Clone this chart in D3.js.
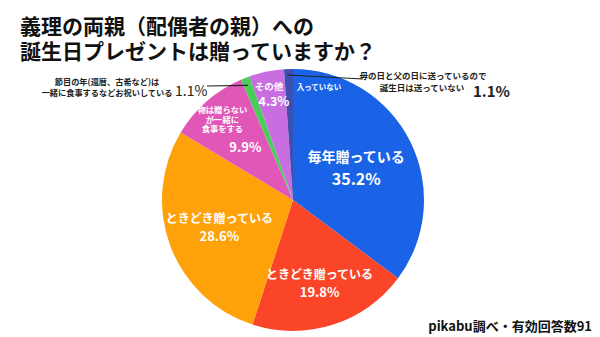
<!DOCTYPE html>
<html><head><meta charset="utf-8">
<script src="https://cdn.jsdelivr.net/npm/d3@7"></script>
<style>
html,body{margin:0;padding:0;background:#fff;}
text{font-family:"Noto Sans CJK JP","Noto Sans",sans-serif;}
</style></head>
<body><svg id="c" width="600" height="337"></svg>
<script>
const titleLines = ["義理の両親（配偶者の親）への", "誕生日プレゼントは贈っていますか？"];
const categories = ["毎年贈っている", "ときどき贈っている", "ときどき贈っている", "物は贈らないが一緒に食事をする", "節目の年(還暦、古希など)は一緒に食事するなどお祝いしている", "その他", "母の日と父の日に送っているので誕生日は送っていない"];
const values = [35.2, 19.8, 28.6, 9.9, 1.1, 4.3, 1.1];
const source = "pikabu調べ・有効回答数91";

const colors = ["#1a63e6", "#fb4528", "#ffa20a", "#e057b8", "#4ccc5a", "#c86ee0", "#3d4fb0"];

const svg = d3.select("#c");
svg.append("rect").attr("width",600).attr("height",337).attr("fill","#fff");

// title
svg.append("g").selectAll("text").data(titleLines).join("text")
  .attr("x", 20).attr("y", (d,i)=> 34 + i*24.5)
  .attr("font-size", 21).attr("font-weight", 700).attr("fill", "#111")
  .text(d=>d);

const cx = 293, cy = 200, R = 131;
const pie = d3.pie().sort(null).value(d=>d.v);
const arcs = pie(values.map((v,i)=>({v, i, cat: categories[i]})));
const arc = d3.arc().innerRadius(0).outerRadius(R);

const g = svg.append("g").attr("transform", `translate(${cx},${cy})`);
g.selectAll("path").data(arcs).join("path")
  .attr("d", arc).attr("fill", d=>colors[d.data.i]);

const fmt = v => v.toFixed(1) + "%";
function pos(d, rf){ const a = (d.startAngle + d.endAngle)/2; return [Math.sin(a)*R*rf, -Math.cos(a)*R*rf]; }

// inner labels
const inner = [
  {i:0, rf:0.54, lines:["毎年贈っている"], ls:14, ps:16, gap:22},
  {i:1, rf:0.67, lines:["ときどき贈っている"], ls:12, ps:13, gap:17},
  {i:2, rf:0.60, lines:["ときどき贈っている"], ls:12, ps:13, gap:17},
];
inner.forEach(o=>{
  const [x,y] = pos(arcs[o.i], o.rf);
  const t = g.append("g").attr("transform", `translate(${x},${y})`);
  t.append("text").attr("text-anchor","middle").attr("y", -o.gap/2 + o.ls*0.36)
    .attr("font-size", o.ls).attr("font-weight",700).attr("fill","#fff").text(o.lines[0]);
  t.append("text").attr("text-anchor","middle").attr("y", o.gap/2 + o.ps*0.36)
    .attr("font-size", o.ps).attr("font-weight",700).attr("fill","#fff").text(fmt(values[o.i]));
});

// pink label
{
  const [x,y] = pos(arcs[3], 0.76);
  const t = g.append("g").attr("transform", `translate(${x},${y})`);
  ["物は贈らない","が一緒に","食事をする"].forEach((s,k)=>{
    t.append("text").attr("text-anchor","middle").attr("x",-5).attr("y", -15 + k*9.5 + 3)
      .attr("font-size", 8.3).attr("font-weight",700).attr("fill","#fff").text(s);
  });
  t.append("text").attr("text-anchor","middle").attr("x",18).attr("y", 19+7.5)
    .attr("font-size", 13).attr("font-weight",700).attr("fill","#fff").text(fmt(values[3]));
}
// purple label
{
  const [x,y] = pos(arcs[5], 0.83);
  const t = g.append("g").attr("transform", `translate(${x},${y})`);
  t.append("text").attr("text-anchor","middle").attr("x",-2).attr("y", -7+3.5)
    .attr("font-size", 9.5).attr("font-weight",700).attr("fill","#fff").text("その他");
  t.append("text").attr("text-anchor","middle").attr("x",3).attr("y", 8+4.5)
    .attr("font-size", 12.5).attr("font-weight",700).attr("fill","#fff").text(fmt(values[5]));
}
// dark blue slice: 入っていない label + leader + outside text
{
  const [x,y] = pos(arcs[6], 0.95);
  g.append("text").attr("x", x+8).attr("y", y+14.5).attr("font-size", 7.5).attr("font-weight",700)
    .attr("fill","#fff").text("入っていない");
  g.append("line").attr("x1", x-1.5).attr("y1", y-0.6).attr("x2", 70).attr("y2", -121)
    .attr("stroke","#222").attr("stroke-width",1.2);
  g.append("text").attr("x", 130).attr("y", -121).attr("text-anchor","middle").attr("font-size",8.5)
    .attr("font-weight",700).attr("fill","#222").text("母の日と父の日に送っているので");
  g.append("text").attr("x", 129).attr("y", -109).attr("text-anchor","middle").attr("font-size",8.5)
    .attr("font-weight",700).attr("fill","#222").text("誕生日は送っていない");
  g.append("text").attr("x", 180).attr("y", -103).attr("font-size",15)
    .attr("font-weight",700).attr("fill","#222").text(fmt(values[6]));
}
// green slice leader
{
  const [x,y] = pos(arcs[4], 0.94);
  g.append("line").attr("x1", x).attr("y1", y).attr("x2", -86).attr("y2", -114)
    .attr("stroke","#222").attr("stroke-width",1.2);
  g.append("text").attr("x", -186).attr("y", -115).attr("text-anchor","middle").attr("font-size",8.2)
    .attr("font-weight",700).attr("fill","#222").text("節目の年(還暦、古希など)は");
  g.append("text").attr("x", -186).attr("y", -104).attr("text-anchor","middle").attr("font-size",8.2)
    .attr("font-weight",700).attr("fill","#222").text("一緒に食事するなどお祝いしている");
  g.append("text").attr("x", -118).attr("y", -104).attr("font-size",14)
    .attr("font-weight",400).attr("fill","#222").text(fmt(values[4]));
}

svg.append("text").attr("x", 592).attr("y", 331).attr("text-anchor","end")
  .attr("font-size", 13).attr("font-weight",700).attr("fill","#111").text(source);
</script></body></html>
